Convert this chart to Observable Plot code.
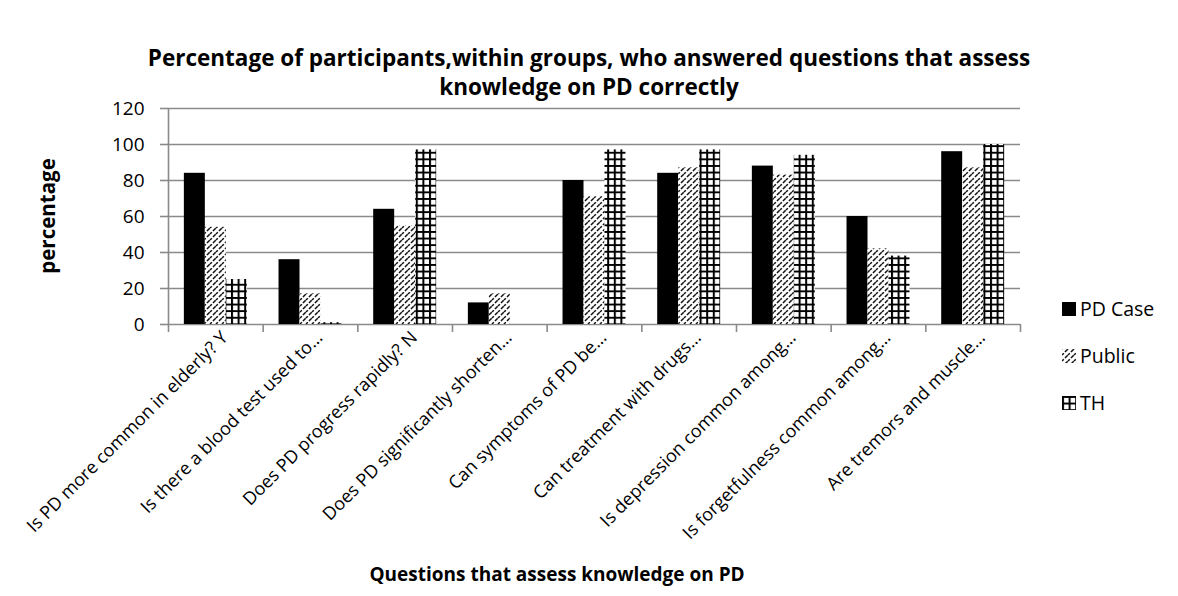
<!DOCTYPE html>
<html><head><meta charset="utf-8">
<script src="https://cdn.jsdelivr.net/npm/d3@7"></script>
<script src="https://cdn.jsdelivr.net/npm/@observablehq/plot@0.6"></script>
<style>
body{margin:0;background:#fff;}
#wrap{position:relative;width:1178px;height:596px;font-family:"Open Sans",sans-serif;color:#000;}
#chart{position:absolute;left:0;top:0;}
.title{position:absolute;left:0;width:1178px;text-align:center;font-weight:bold;font-size:22.5px;line-height:29px;}
.ylab{position:absolute;font-weight:bold;font-size:20.5px;transform:rotate(-90deg);transform-origin:center;white-space:nowrap;}
.xlab{position:absolute;font-weight:bold;font-size:19px;white-space:nowrap;}
.leg{position:absolute;left:1062px;font-size:19.5px;display:flex;align-items:center;gap:4px;white-space:nowrap;}
.leg svg{display:block;}
</style>
</head><body>
<div id="wrap">
  <div id="chart"></div>
  <div class="title" style="top:43px;">Percentage of participants,within groups, who answered questions that assess<br>knowledge on PD correctly</div>
  <div class="ylab" id="ylab">percentage</div>
  <div class="xlab" id="xlab">Questions that assess knowledge on PD</div>
  <div id="legend"></div>
</div>
<script>
const categories = [
  "Is PD more common in elderly? Y",
  "Is there a blood test used to…",
  "Does PD progress rapidly? N",
  "Does PD significantly shorten…",
  "Can symptoms of PD be…",
  "Can treatment with drugs…",
  "Is depression common among…",
  "Is forgetfulness common among…",
  "Are tremors and muscle…"
];
const seriesNames = ["PD Case", "Public", "TH"];
const pdCase = [84, 36, 64, 12, 80, 84, 88, 60, 96];
const publicVals = [54, 17, 55, 17, 71, 87, 83, 42, 87];
const th = [25, 1, 97, 0, 97, 97, 94, 38, 100];
const yTicks = [0, 20, 40, 60, 80, 100, 120];

const seriesValues = [pdCase, publicVals, th];
const fills = ["#000", "url(#hatchPublic)", "url(#gridTH)"];

// layout within each category (fractions of category width)
const gap = 0.335, barW = (1 - gap) / 3;
const rows = [];
seriesValues.forEach((vals, k) => vals.forEach((v, i) => rows.push({i, k, cat: categories[i], series: seriesNames[k], value: v})));

const gridColor = "#8a8a8a";
const chart = Plot.plot({
  width: 1178, height: 596,
  marginLeft: 168, marginRight: 158, marginTop: 108, marginBottom: 272,
  style: {fontFamily: "'Open Sans', sans-serif", color: "#000", background: "transparent"},
  x: {domain: [0, categories.length], axis: null},
  y: {domain: [0, 120], axis: null},
  marks: [
    Plot.ruleY(yTicks, {stroke: gridColor, strokeWidth: 1.6}),
    Plot.axisY({ticks: yTicks, tickSize: 8, tickPadding: 16, fontSize: 19, stroke: gridColor, strokeWidth: 1.6, fill: "#000", label: null}),
    Plot.ruleX([0], {y1: 0, y2: 120, stroke: gridColor, strokeWidth: 1.6}),
    Plot.axisX({ticks: d3.range(categories.length + 1), tickSize: 8, tickFormat: () => "", stroke: gridColor, strokeWidth: 1.6, label: null}),
    Plot.axisX({ticks: categories.map((c, i) => i + 0.5), tickSize: 0, tickPadding: 10, tickRotate: -45, dx: 9,
      tickFormat: d => categories[Math.floor(d)], fontSize: 18, fill: "#000", label: null}),
    ...seriesNames.map((s, k) => Plot.rectY(rows.filter(d => d.k === k), {
      x1: d => d.i + gap / 2 + d.k * barW,
      x2: d => d.i + gap / 2 + (d.k + 1) * barW,
      y: "value",
      fill: fills[k]
    }))
  ]
});
document.getElementById("chart").appendChild(chart);

// pattern definitions
const defsSvg = d3.select("#wrap").append("svg").attr("width", 0).attr("height", 0).style("position", "absolute");
const defs = defsSvg.append("defs");
const hp = defs.append("pattern").attr("id", "hatchPublic").attr("patternUnits", "userSpaceOnUse").attr("width", 6).attr("height", 6);
hp.append("rect").attr("width", 6).attr("height", 6).attr("fill", "#fff");
hp.append("path").attr("d", "M-1,7 L7,-1 M-4,4 L4,-4 M2,10 L10,2").attr("stroke", "#111").attr("stroke-width", 1.5).attr("stroke-dasharray", "4 1.6");
const gp = defs.append("pattern").attr("id", "gridTH").attr("patternUnits", "userSpaceOnUse").attr("width", 6.6).attr("height", 6.6);
gp.append("rect").attr("width", 6.6).attr("height", 6.6).attr("fill", "#fff");
gp.append("path").attr("d", "M1,0 V6.6 M0,1 H6.6").attr("stroke", "#000").attr("stroke-width", 2);

// axis titles
const ylab = document.getElementById("ylab");
const yw = ylab.offsetWidth, yh = ylab.offsetHeight;
ylab.style.left = (47 - yw / 2) + "px";
ylab.style.top = (216 - yh / 2) + "px";
const xlab = document.getElementById("xlab");
xlab.style.left = (557 - xlab.offsetWidth / 2) + "px";
xlab.style.top = (574 - xlab.offsetHeight / 2) + "px";

// legend
const legend = document.getElementById("legend");
seriesNames.forEach((s, k) => {
  const div = document.createElement("div");
  div.className = "leg";
  div.style.top = (295 + k * 47) + "px";
  div.innerHTML = `<svg width="14" height="14"><rect width="14" height="14" fill="${fills[k]}"/></svg><span>${s}</span>`;
  legend.appendChild(div);
});
</script>
</body></html>
